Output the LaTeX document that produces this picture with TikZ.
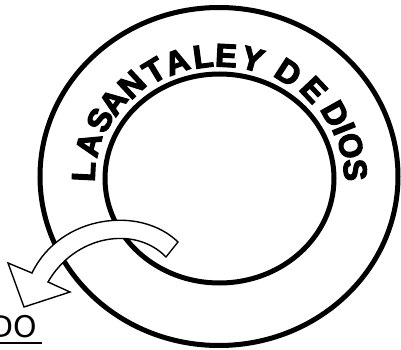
\documentclass[tikz,border=0pt]{standalone}
\usepackage{fontspec}
\newfontfamily\dejavu{DejaVu Sans}
\newfontfamily\arcfont[FakeBold=4,Scale=3.25]{Liberation Sans Bold}

\tikzset{
  arcletter/.style={font=\arcfont,inner sep=0pt,anchor=center},
}

\begin{document}
\begin{tikzpicture}[x=1bp,y=1bp,line width=5bp]
\useasboundingbox (0,0) rectangle (401,350);
\clip (0,0) rectangle (401,350);
% 外圈与内圈（略扁的椭圆）
\draw (219,173.5) ellipse (179 and 169);
\draw (219.5,171.5) ellipse (114.5 and 104.5);
% 沿内圈上沿逐个排字母
\coordinate (ringc) at (219.5,171.5);
\foreach \ch/\ang [count=\i] in {L/177.1,A/165.4,S/153.9,A/144.2,N/133.0,T/121.2,
    A/110.1,L/97.7,E/86.9,Y/74.5,D/57.0,E/43.3,D/29.2,I/21.8,O/14.0,S/3.6}{
  \pgfmathsetmacro\rad{100/sqrt((cos(\ang)/1.36)^2+(sin(\ang)/1.23)^2)}
  \node[arcletter,rotate=\ang-90] (ch\i) at ([shift={(\ang:\rad)}]ringc) {\ch};
}
% 空心弯箭头（白色填充，盖住两圈）
\filldraw[fill=white,line width=1.4bp,line join=miter]
  (32,77) -- (8,87) -- (24,43) -- (70,58) -- (48,68)
  .. controls (75,115) and (135,125) .. (166,93) -- (178,108)
  .. controls (140,145) and (60,135) .. (32,77) -- cycle;
% 左下角带下划线的字（左边被裁掉）
\node[font=\dejavu\fontsize{30}{30}\selectfont,anchor=base west,inner sep=0pt]
  (dolabel) at (-12,13) {DO};
\draw[line width=2.2bp] ([yshift=-6bp]dolabel.base west) -- ([yshift=-6bp,xshift=2bp]dolabel.base east);
\end{tikzpicture}
\end{document}
